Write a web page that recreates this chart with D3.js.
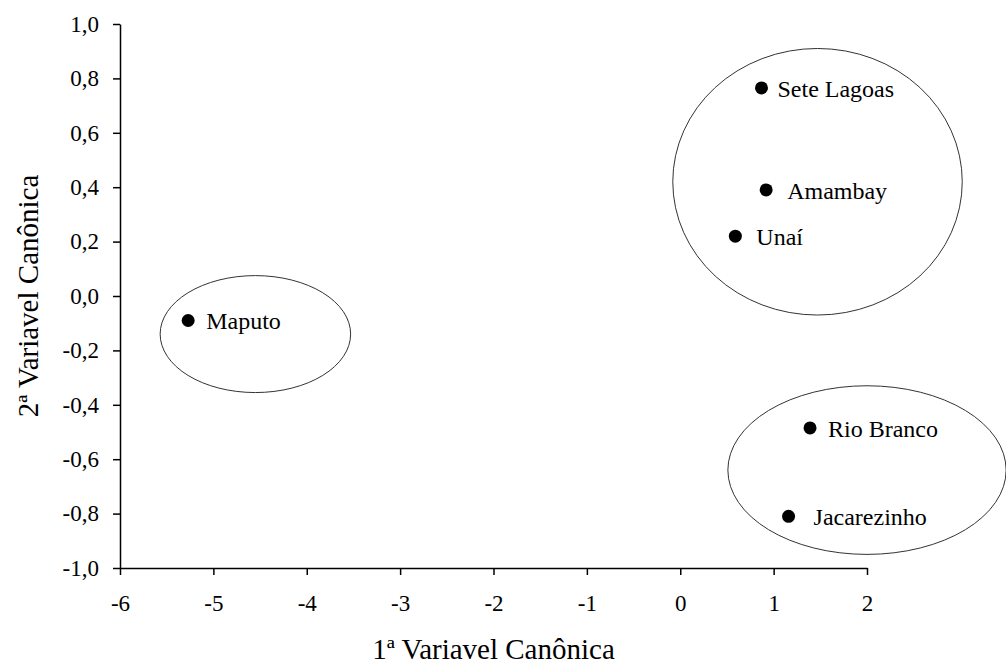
<!DOCTYPE html>
<meta charset="utf-8">
<style>
  body { margin: 0; background: #fff; }
  svg text { font-family: "Liberation Serif", "Times New Roman", serif !important; fill: #000; }
</style>
<svg width="1006" height="664"></svg>
<script src="https://cdn.jsdelivr.net/npm/d3@7"></script>
<script>
    // dados
    var locais = ['Sete Lagoas', 'Amambay', 'Unaí', 'Maputo', 'Rio Branco', 'Jacarezinho'];
    var var1 = [0.87, 0.92, 0.59, -5.27, 1.39, 1.16];
    var var2 = [0.765, 0.39, 0.22, -0.09, -0.485, -0.81];

    // grupos (elipses): centro e raios em unidades dos eixos
    var grupoCx = [1.47, -4.55, 2.0];
    var grupoCy = [0.42, -0.14, -0.64];
    var grupoRx = [1.55, 1.02, 1.49];
    var grupoRy = [0.49, 0.215, 0.31];

    var xTicks = [-6, -5, -4, -3, -2, -1, 0, 1, 2];
    var yTicks = [-1, -0.8, -0.6, -0.4, -0.2, 0, 0.2, 0.4, 0.6, 0.8, 1];

    // deslocamento dos rótulos em relação ao ponto
    var rotuloDx = { 'Sete Lagoas': 16, 'Amambay': 21, 'Unaí': 21, 'Maputo': 18, 'Rio Branco': 18, 'Jacarezinho': 25 };

    var svgElem = d3.select('svg');
    var margin = { left: 120, top: 24, right: 139, bottom: 96 };
    var width = +svgElem.attr('width') - margin.left - margin.right;
    var height = +svgElem.attr('height') - margin.top - margin.bottom;
    var g = svgElem.append('g')
        .attr('transform', `translate(${margin.left}, ${margin.top})`);

    var x = d3.scaleLinear().domain([-6, 2]).range([0, width]);
    var y = d3.scaleLinear().domain([-1, 1]).range([height, 0]);

    // elipses
    g.selectAll('.grupo')
        .data(grupoCx)
        .enter()
        .append('ellipse')
        .attr('class', 'grupo')
        .attr('cx', function (d) { return x(d); })
        .attr('cy', function (d, i) { return y(grupoCy[i]); })
        .attr('rx', function (d, i) { return x(d + grupoRx[i]) - x(d); })
        .attr('ry', function (d, i) { return y(grupoCy[i] - grupoRy[i]) - y(grupoCy[i]); })
        .attr('fill', 'none')
        .attr('stroke', '#333')
        .attr('stroke-width', 1);

    // eixos
    var eixoX = g.append('g')
        .attr('transform', `translate(0, ${height})`)
        .call(d3.axisBottom(x).tickValues(xTicks).tickSize(7).tickSizeOuter(0).tickPadding(20));
    var eixoY = g.append('g')
        .call(d3.axisLeft(y).tickValues(yTicks).tickSize(7).tickSizeOuter(0).tickPadding(14));
    [eixoX, eixoY].forEach(function (e) {
        e.attr('font-family', null);
        e.select('.domain').attr('stroke', '#000').attr('stroke-width', 1.5);
        e.selectAll('.tick line').attr('stroke', '#000').attr('stroke-width', 1.5);
        e.selectAll('.tick text').style('font-size', '23px').attr('fill', '#000');
    });
    eixoX.selectAll('.tick text').text(function (d) { return String(d); });
    eixoY.selectAll('.tick text').text(function (d) {
        return (d < 0 ? '-' : '') + Math.abs(d).toFixed(1).replace('.', ',');
    });

    // pontos
    g.selectAll('.ponto')
        .data(locais)
        .enter()
        .append('circle')
        .attr('class', 'ponto')
        .attr('cx', function (d, i) { return x(var1[i]); })
        .attr('cy', function (d, i) { return y(var2[i]); })
        .attr('r', 6.5)
        .attr('fill', '#000');

    g.selectAll('.rotulo')
        .data(locais)
        .enter()
        .append('text')
        .attr('class', 'rotulo')
        .attr('x', function (d, i) { return x(var1[i]) + rotuloDx[d]; })
        .attr('y', function (d, i) { return y(var2[i]); })
        .attr('dy', '0.36em')
        .style('font-size', '24px')
        .text(function (d) { return d; });

    // títulos dos eixos
    svgElem.append('text')
        .attr('x', margin.left + x(-2))
        .attr('y', 659)
        .attr('text-anchor', 'middle')
        .style('font-size', '29px')
        .text('1ª Variavel Canônica');
    svgElem.append('text')
        .attr('transform', `translate(38, ${margin.top + y(0)}) rotate(-90)`)
        .attr('text-anchor', 'middle')
        .style('font-size', '29px')
        .text('2ª Variavel Canônica');
</script>
